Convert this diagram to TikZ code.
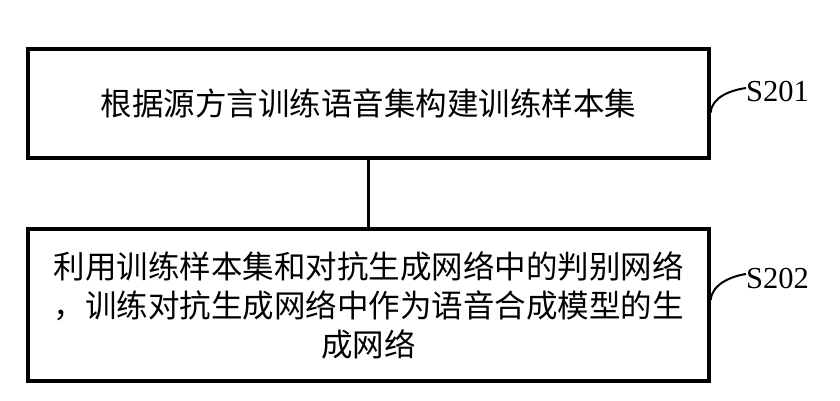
\documentclass[tikz,border=0pt]{standalone}
\usepackage{fontspec}
\setmainfont{Liberation Serif}
\newfontfamily\cjk{Noto Sans CJK SC}
\begin{document}
\begin{tikzpicture}[x=1pt,y=-1pt,
  stepbox/.style={draw=black,line width=3.5pt,inner sep=0pt,align=center,
    font=\cjk\fontsize{31.5}{39}\selectfont},
  steplabel/.style={anchor=west,inner sep=0pt,font=\fontsize{30.5}{36}\selectfont},
  link/.style={line width=2.5pt},
  lead/.style={line width=2pt}]
\useasboundingbox (0,0) rectangle (840,400);
\node[stepbox,minimum width=681pt,minimum height=109pt] (b1) at (368.5,103.5)
  {根据源方言训练语音集构建训练样本集};
\node[stepbox,minimum width=681pt,minimum height=152pt] (b2) at (368.5,305)
  {利用训练样本集和对抗生成网络中的判别网络\\，训练对抗生成网络中作为语音合成模型的生\\成网络};
\draw[link] (b1.south) -- (b2.north);
\node[steplabel] (l1) at (746,92) {S201};
\node[steplabel] (l2) at (746,278) {S202};
\coordinate (c1) at ([yshift=-9pt]b1.east);
\coordinate (c2) at ([yshift=5pt]b2.east);
\draw[lead] (c1) .. controls +(1,-16) and +(-14,2) .. ([yshift=4pt]l1.west);
\draw[lead] (c2) .. controls +(1,-16) and +(-14,2) .. ([yshift=4pt]l2.west);
\end{tikzpicture}
\end{document}
